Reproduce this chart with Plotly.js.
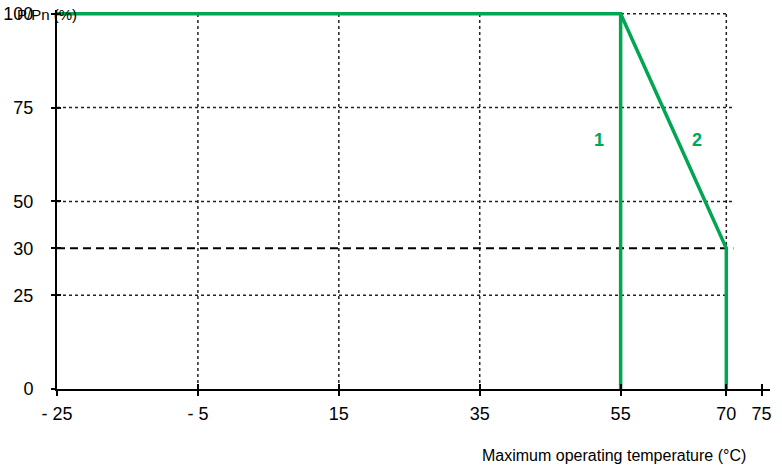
<!DOCTYPE html>
<html><head><meta charset="utf-8">
<script src="https://cdn.plot.ly/plotly-3.0.1.min.js"></script>
<style>html,body{margin:0;padding:0;background:#fff}#c{width:782px;height:466px}</style>
</head><body><div id="c"></div>
<script>
// data
const curve1X = [-25, 55, 55];
const curve1Y = [100, 100, 0];
const curve2X = [55, 70, 70];
const curve2Y = [100, 30, 0];
const xTickVals = [-25, -5, 15, 35, 55, 70, 75];
const xTickText = ['- 25', '- 5', '15', '35', '55', '70', '75'];
const yTickVals = [0, 25, 30, 50, 75, 100];
const yTickText = ['0', '25', '30', '50', '75', '100'];
const xGridVals = [-5, 15, 35, 55, 70];
const yGridDotted = [25, 50, 75, 100];
const yGridDashed = [30];
const curveLabels = ['1', '2'];

// schematic (non-linear) y scale of the original: 30 sits midway between 25 and 50
const yScaleIn = [0, 25, 30, 50, 75, 100];
const yScaleOut = [0, 25, 37.5, 50, 75, 100];
function ys(v) {
  for (let i = 0; i < yScaleIn.length - 1; i++) {
    const a = yScaleIn[i], b = yScaleIn[i + 1];
    if (v >= a && v <= b) return yScaleOut[i] + (v - a) / (b - a) * (yScaleOut[i + 1] - yScaleOut[i]);
  }
  return v;
}

const green = 'rgb(0,166,81)';
const font = 'Liberation Sans, Arial, sans-serif';
const xr = [-25, 76.2], yr = [0, 101];

const traces = [
  {x: curve1X, y: curve1Y.map(ys), name: curveLabels[0], mode: 'lines', line: {color: green, width: 3.5}, cliponaxis: false},
  {x: curve2X, y: curve2Y.map(ys), name: curveLabels[1], mode: 'lines', line: {color: green, width: 3.5}, cliponaxis: false},
  {x: [null], y: [null], xaxis: 'x2', yaxis: 'y2', showlegend: false, hoverinfo: 'skip'}
];

const shapes = [];
xGridVals.forEach(v => shapes.push({type: 'line', xref: 'x', yref: 'y', x0: v, x1: v, y0: 0, y1: ys(100), layer: 'below', line: {color: '#222', width: 1.5, dash: 'dot'}}));
yGridDotted.forEach(v => shapes.push({type: 'line', xref: 'x', yref: 'y', x0: -25, x1: (v === 25 || v === 100) ? 70 : 71, y0: ys(v), y1: ys(v), layer: 'below', line: {color: '#222', width: 1.5, dash: 'dot'}}));
yGridDashed.forEach(v => shapes.push({type: 'line', xref: 'x', yref: 'y', x0: -25, x1: 71, y0: ys(v), y1: ys(v), layer: 'below', line: {color: '#000', width: 2, dash: '8px,5px'}}));

const axBase = {showgrid: false, zeroline: false, fixedrange: true};
const layout = {
  width: 782, height: 466,
  margin: {l: 57, r: 12, t: 10, b: 77},
  paper_bgcolor: '#fff', plot_bgcolor: '#fff',
  showlegend: false,
  font: {family: font, color: '#000', size: 18},
  xaxis: Object.assign({}, axBase, {range: xr, tickmode: 'array', tickvals: xTickVals, ticktext: xTickText,
    showline: true, linecolor: '#000', linewidth: 2, ticks: 'outside', ticklen: 5, tickwidth: 2, tickcolor: '#000',
    ticklabelstandoff: 2, tickfont: {family: font, size: 18, color: '#000'}}),
  yaxis: Object.assign({}, axBase, {range: yr, tickmode: 'array', tickvals: yTickVals.map(ys), ticktext: yTickText,
    showline: true, linecolor: '#000', linewidth: 2, ticks: 'outside', ticklen: 4, tickwidth: 2, tickcolor: '#000',
    ticklabelstandoff: 14, tickfont: {family: font, size: 18, color: '#000'}}),
  xaxis2: Object.assign({}, axBase, {range: xr, overlaying: 'x', anchor: 'y', side: 'bottom', tickmode: 'array', tickvals: xTickVals,
    showticklabels: false, showline: false, ticks: 'inside', ticklen: 5, tickwidth: 2, tickcolor: '#000'}),
  yaxis2: Object.assign({}, axBase, {range: yr, overlaying: 'y', anchor: 'x', side: 'left', tickmode: 'array', tickvals: yTickVals.map(ys),
    showticklabels: false, showline: false, ticks: 'inside', ticklen: 4, tickwidth: 2, tickcolor: '#000'}),
  shapes: shapes,
  annotations: [
    {xref: 'paper', yref: 'paper', x: -42 / 713, y: 375 / 379, xanchor: 'left', yanchor: 'middle', text: 'P/Pn (%)', showarrow: false, font: {family: font, size: 15, color: '#000'}},
    {xref: 'paper', yref: 'paper', x: (614 - 57) / 713, y: -66 / 379, xanchor: 'center', yanchor: 'middle', text: 'Maximum operating temperature (°C)', showarrow: false, font: {family: font, size: 16, color: '#000'}},
    {xref: 'x', yref: 'y', x: 51.9, y: 66.4, text: '<b>' + curveLabels[0] + '</b>', showarrow: false, font: {family: font, size: 18, color: green}},
    {xref: 'x', yref: 'y', x: 65.9, y: 66.4, text: '<b>' + curveLabels[1] + '</b>', showarrow: false, font: {family: font, size: 18, color: green}}
  ]
};
Plotly.newPlot('c', traces, layout, {displayModeBar: false, staticPlot: true});
</script></body></html>
